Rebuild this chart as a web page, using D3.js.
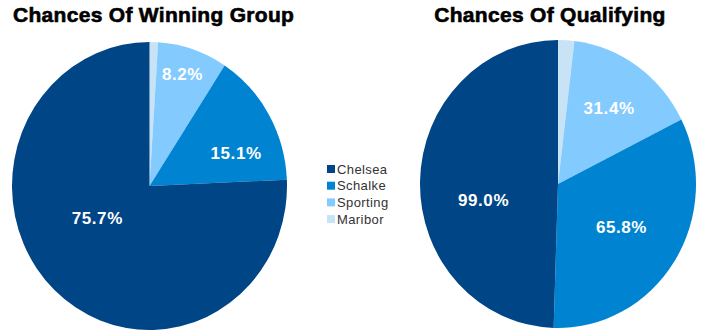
<!DOCTYPE html>
<html>
<head>
<meta charset="utf-8">
<script src="https://cdn.jsdelivr.net/npm/d3@7"></script>
<style>
  html, body { margin: 0; padding: 0; background: #fff; }
  svg { display: block; }
</style>
</head>
<body>
<svg id="chart" width="711" height="335"></svg>
<script>
// Teams in legend order
const teams = ["Chelsea", "Schalke", "Sporting", "Maribor"];
// Chance of winning the group (%)
const winGroup = [75.7, 15.1, 8.2, 1.0];
// Chance of qualifying (%)
const qualify = [99.0, 65.8, 31.4, 3.8];
// Value labels shown on the slices
const winLabels = ["75.7%", "15.1%", "8.2%", null];
const qualLabels = ["99.0%", "65.8%", "31.4%", null];

const colors = ["#004586", "#0084d1", "#83caff", "#c9e3f6"];
const color = d3.scaleOrdinal().domain(teams).range(colors);

const svg = d3.select("#chart");

// Label anchors, as fractions of the horizontal / vertical radius
const winLabelAt = [[-0.38, 0.22], [0.63, -0.23], [0.24, -0.78], null];
const qualLabelAt = [[-0.54, 0.11], [0.46, 0.30], [0.37, -0.53], null];

function drawPie(values, labels, labelAt, cfg) {
  // slices run clockwise from 12 o'clock, last legend entry first
  const rows = teams.map((t, i) => ({ team: t, value: values[i], label: labels[i], at: labelAt[i] }));
  const ordered = rows.slice().reverse();
  const pie = d3.pie().sort(null).value(d => d.value).startAngle(0).endAngle(2 * Math.PI);
  const arc = d3.arc().innerRadius(0).outerRadius(cfg.ry);

  const g = svg.append("g").attr("transform", `translate(${cfg.cx},${cfg.cy})`);
  g.append("g")
    .attr("transform", `scale(${cfg.rx / cfg.ry},1)`)
    .selectAll("path")
    .data(pie(ordered))
    .join("path")
    .attr("d", arc)
    .attr("fill", d => color(d.data.team));

  g.selectAll("text.val")
    .data(rows.filter(d => d.label))
    .join("text")
    .attr("class", "val")
    .attr("x", d => d.at[0] * cfg.rx)
    .attr("y", d => d.at[1] * cfg.ry)
    .attr("dy", "0.36em")
    .attr("text-anchor", "middle")
    .attr("fill", "#fff")
    .attr("font-family", "Liberation Sans, Arial, sans-serif")
    .attr("font-weight", "bold")
    .attr("font-size", 17)
    .attr("letter-spacing", 0.6)
    .text(d => d.label);

  svg.append("text")
    .attr("x", cfg.titleX)
    .attr("y", 22)
    .attr("text-anchor", cfg.titleAnchor)
    .attr("font-family", "Liberation Sans, Arial, sans-serif")
    .attr("font-weight", "bold")
    .attr("font-size", 21)
    .attr("letter-spacing", 0.3)
    .attr("fill", "#000")
    .attr("stroke", "#000")
    .attr("stroke-width", 0.6)
    .text(cfg.title);
}

drawPie(winGroup, winLabels, winLabelAt, {
  cx: 149.5, cy: 186, rx: 137.5, ry: 144,
  title: "Chances Of Winning Group", titleX: 13, titleAnchor: "start"
});
drawPie(qualify, qualLabels, qualLabelAt, {
  cx: 558, cy: 184, rx: 138, ry: 144,
  title: "Chances Of Qualifying", titleX: 550, titleAnchor: "middle"
});

// Legend
const legend = svg.append("g").attr("transform", "translate(327,169)");
const item = legend.selectAll("g")
  .data(teams)
  .join("g")
  .attr("transform", (d, i) => `translate(0,${i * 16.7})`);
item.append("rect")
  .attr("x", 0).attr("y", -4)
  .attr("width", 8).attr("height", 8)
  .attr("fill", d => color(d));
item.append("text")
  .attr("x", 10)
  .attr("dy", "0.36em")
  .attr("font-family", "Liberation Sans, Arial, sans-serif")
  .attr("font-size", 13)
  .attr("letter-spacing", 0.4)
  .attr("fill", "#333")
  .text(d => d);
</script>
</body>
</html>
